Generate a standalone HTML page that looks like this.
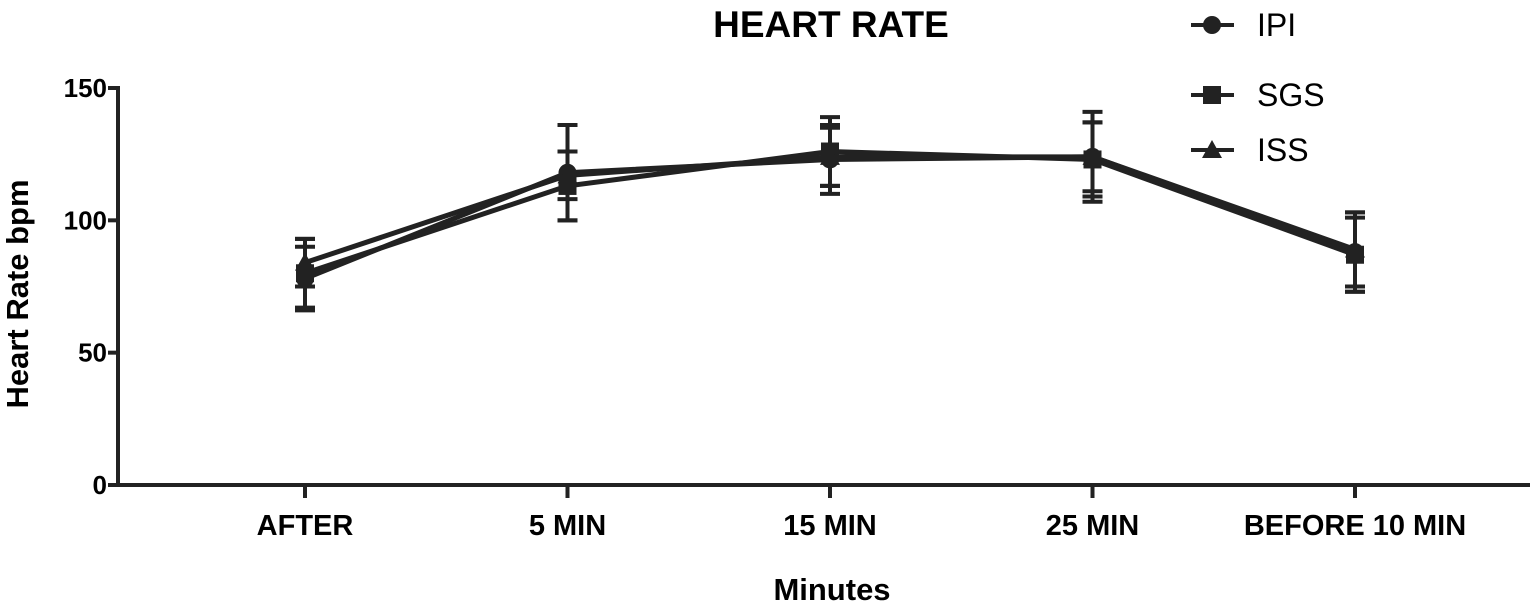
<!DOCTYPE html>
<html><head><meta charset="utf-8"><style>
body{margin:0;background:#fff}
svg{display:block;font-family:"Liberation Sans",Arial,sans-serif}
</style></head><body>
<svg id="c" width="1535" height="611">
<text x="831" y="37" text-anchor="middle" font-size="37" font-weight="bold">HEART RATE</text>
<text transform="translate(28,294) rotate(-90)" text-anchor="middle" font-size="31" font-weight="bold">Heart Rate bpm</text>
<text x="832" y="600" text-anchor="middle" font-size="31" font-weight="bold">Minutes</text>
<g id="axes"></g><g id="marks"></g><g id="legend"></g>
</svg>
<script>
const categories=["AFTER","5 MIN","15 MIN","25 MIN","BEFORE 10 MIN"];
const seriesNames=["IPI","SGS","ISS"];
const ipiValues=[78,118,123,124,88];
const ipiErr=[12,18,13,17,15];
const sgsValues=[80,113,126,123,87];
const sgsErr=[13,13,13,14,14];
const issValues=[84,117,124,124,89];
const issErr=[9,9,11,13,14];
const yTicks=[0,50,100,150];
const NS="http://www.w3.org/2000/svg";
function mk(t,a,p){const e=document.createElementNS(NS,t);for(const k in a)e.setAttribute(k,a[k]);p.appendChild(e);return e;}
const x0=118,x1=1530,yB=485,yT=88;
function y(v){return yB-(v/150)*(yB-yT);}
function x(i){return 305+i*262.5;}
const axes=document.getElementById('axes'),marks=document.getElementById('marks'),leg=document.getElementById('legend');
let l=mk('line',{x1:x0,y1:yT-2,x2:x0,y2:yB+2,stroke:'#222','stroke-width':4},axes);


l=mk('line',{x1:x0-2,y1:yB,x2:x1,y2:yB,stroke:'#222','stroke-width':4},axes);


yTicks.forEach(v=>{
 const t=mk('line',{x1:x0-10,y1:y(v),x2:x0,y2:y(v),stroke:'#222','stroke-width':4},axes);
 
 
 const tx=mk('text',{x:x0-11,y:y(v)+9,'text-anchor':'end','font-size':26,'font-weight':'bold'},axes);
 tx.textContent=v;
 
 
});
categories.forEach((c,i)=>{
 const t=mk('line',{x1:x(i),y1:yB,x2:x(i),y2:yB+13,stroke:'#222','stroke-width':4},axes);
 
 
 const tx=mk('text',{x:x(i),y:535,'text-anchor':'middle','font-size':29,'font-weight':'bold'},axes);
 tx.textContent=c;
 
 
});
function marker(shape,cx,cy,p){
 if(shape==0)return mk('circle',{cx:cx,cy:cy,r:9,fill:'#222'},p);
 if(shape==1)return mk('rect',{x:cx-9,y:cy-9,width:18,height:18,fill:'#222'},p);
 return mk('polygon',{points:`${cx},${cy-10} ${cx+10},${cy+8} ${cx-10},${cy+8}`,fill:'#222'},p);
}
const all=[[ipiValues,ipiErr],[sgsValues,sgsErr],[issValues,issErr]];
all.forEach(([vals,err],s)=>{
 const g=mk('g',{},marks);
 
 
 vals.forEach((v,i)=>{
  const e=mk('path',{d:`M${x(i)},${y(v+err[i])}V${y(v-err[i])}M${x(i)-10},${y(v+err[i])}h20M${x(i)-10},${y(v-err[i])}h20`,stroke:'#222','stroke-width':4,fill:'none'},g);
  
  
 });
 const ln=mk('polyline',{points:vals.map((v,i)=>x(i)+','+y(v)).join(' '),stroke:'#222','stroke-width':5,fill:'none'},g);
 
 
 vals.forEach((v,i)=>{
  const m=marker(s,x(i),y(v),g);
  
  
 });
});
const legY=[25,95,150];
seriesNames.forEach((n,s)=>{
 const g=mk('g',{},leg);
 
 
 mk('line',{x1:1191,y1:legY[s],x2:1234,y2:legY[s],stroke:'#222','stroke-width':4},g);
 marker(s,1212,legY[s],g);
 const t=mk('text',{x:1257,y:legY[s]+11,'font-size':32},g);
 t.textContent=n;
});
</script>
</body></html>
